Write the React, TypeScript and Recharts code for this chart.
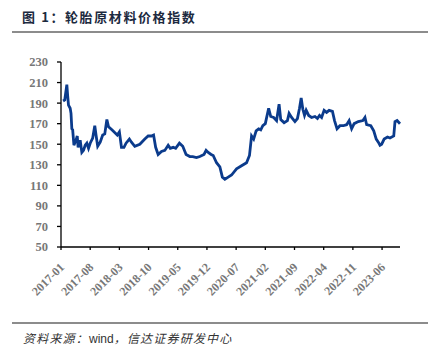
import { LineChart, Line, XAxis, YAxis } from 'recharts';

// month index from 2017-01, index value
const MONTHS = [
  0.5, 0.9, 1.4, 1.6, 1.8, 2.2, 2.4, 2.6, 2.8, 3.1, 3.6, 3.9, 4.1, 4.6, 5.0, 5.4, 5.8, 6.2, 6.6, 7.0,
  7.6, 8.1, 8.4, 8.8, 9.4, 10.0, 10.5, 11.0, 11.4, 12.2, 13.0, 13.5, 14.0, 14.5, 15.1, 15.6, 16.4, 16.9, 17.7, 18.9,
  20.1, 20.9, 21.7, 22.2, 22.7, 23.3, 24.1, 24.9, 25.7, 26.2, 26.9, 27.5, 28.4, 29.2, 30.0, 30.9, 31.6, 32.5, 33.3, 34.3,
  34.8, 35.3, 36.0, 36.5, 37.3, 38.1, 38.7, 39.3, 40.1, 40.9, 42.1, 43.3, 44.5, 45.2, 45.7, 46.2, 46.8, 47.4, 47.9, 48.4,
  49.0, 49.8, 50.3, 51.0, 51.7, 52.3, 52.7, 53.5, 54.3, 54.7, 55.3, 56.1, 56.7, 57.2, 57.6, 58.0, 58.4, 58.8, 59.4, 60.1,
  60.9, 61.5, 62.0, 62.5, 63.1, 63.7, 64.3, 65.1, 65.6, 66.2, 66.9, 67.7, 68.5, 69.1, 69.7, 70.3, 71.3, 72.4, 72.9, 73.3,
  74.3, 75.0, 75.6, 76.1, 76.5, 76.9, 77.5, 78.3, 78.9, 79.8, 80.1, 80.6, 81.3,
];
const VALUES = [
  192, 193, 208, 197, 188, 185, 180, 165, 164, 149, 154, 158, 147, 154, 142, 144, 149, 151, 146, 151,
  156, 168, 159, 148, 152, 159, 160, 174, 167, 164, 161, 159, 162, 147, 147, 151, 155, 152, 148, 150,
  155, 158, 158, 159, 147, 140, 143, 144, 149, 146, 147, 146, 151, 148, 140, 138, 138, 137, 138, 140,
  144, 142, 140, 139, 132, 128, 118, 116, 118, 120, 126, 129, 132, 139, 158, 155, 163, 165, 164, 168,
  170, 185, 177, 176, 173, 189, 174, 171, 173, 180, 176, 172, 175, 185, 195, 184, 178, 183, 178, 176,
  177, 175, 178, 176, 183, 181, 183, 182, 173, 165, 168, 168, 169, 173, 165, 170, 172, 173, 176, 169,
  168, 163, 155, 152, 149, 150, 155, 157, 156, 158, 172, 173, 170,
];
const X_TICKS = [0, 7, 14, 21, 28, 35, 42, 49, 56, 63, 70, 77];
const Y_TICKS = [50, 70, 90, 110, 130, 150, 170, 190, 210, 230];

const data = MONTHS.map((m, i) => ({ m, v: VALUES[i] }));

const monthLabel = (m: number) => {
  const y = 2017 + Math.floor(m / 12);
  const mo = (m % 12) + 1;
  return `${y}-${mo < 10 ? '0' + mo : mo}`;
};

const XTick = (props: any) => {
  const { x, y, payload } = props;
  const ax = x + 4;
  const ay = y + 16;
  return (
    <text
      x={ax}
      y={ay}
      transform={`rotate(-45, ${ax}, ${ay})`}
      textAnchor="end"
      fill="#777"
      fontSize={12}
      fontWeight="bold"
      fontFamily="'Liberation Serif', 'Times New Roman', serif"
    >
      {monthLabel(payload.value)}
    </text>
  );
};

export default function App() {
  return (
    <div style={{ position: 'fixed', left: 0, top: 0, width: 431, height: 364, background: '#fff' }}>
      <div
        style={{
          position: 'absolute',
          left: 22,
          top: 7,
          fontSize: 13,
          fontWeight: 'bold',
          letterSpacing: 1.6,
          color: '#1c2a40',
          fontFamily: "'Noto Sans CJK SC', sans-serif",
          whiteSpace: 'nowrap',
        }}
      >
        图 1：轮胎原材料价格指数
      </div>
      <div style={{ position: 'absolute', left: 12, top: 31, width: 416, height: 2, background: '#8c8c8c' }} />
      <div style={{ position: 'absolute', left: 0, top: 0 }}>
        <LineChart width={431} height={310} data={data} margin={{ top: 62, right: 31, left: 0, bottom: 0 }}>
          <XAxis
            dataKey="m"
            type="number"
            domain={[0, 81.3]}
            ticks={X_TICKS}
            interval={0}
            height={63}
            tickSize={3}
            axisLine={{ stroke: '#000', strokeWidth: 1.3 }}
            tickLine={{ stroke: '#000', strokeWidth: 1.3 }}
            tick={<XTick />}
          />
          <YAxis
            type="number"
            domain={[50, 230]}
            ticks={Y_TICKS}
            interval={0}
            width={61}
            tickSize={4}
            tickMargin={9}
            axisLine={{ stroke: '#000', strokeWidth: 1.3 }}
            tickLine={{ stroke: '#000', strokeWidth: 1.3 }}
            tick={{
              fill: '#777',
              fontSize: 12.5,
              fontWeight: 'bold',
              fontFamily: "'Liberation Serif', 'Times New Roman', serif",
            }}
          />
          <Line
            dataKey="v"
            type="linear"
            stroke="#0b3b8c"
            strokeWidth={2.8}
            dot={false}
            isAnimationActive={false}
          />
        </LineChart>
      </div>
      <div style={{ position: 'absolute', left: 12, top: 322, width: 416, height: 2, background: '#8c8c8c' }} />
      <div
        style={{
          position: 'absolute',
          left: 23,
          top: 329,
          fontSize: 12,
          letterSpacing: 1.2,
          color: '#333',
          fontFamily: "'Noto Sans CJK SC', sans-serif",
          whiteSpace: 'nowrap',
        }}
      >
        <i>资料来源：</i>
        <span style={{ fontFamily: "'Liberation Sans', Arial, sans-serif", letterSpacing: 0 }}>wind</span>
        <i>，信达证券研发中心</i>
      </div>
    </div>
  );
}
